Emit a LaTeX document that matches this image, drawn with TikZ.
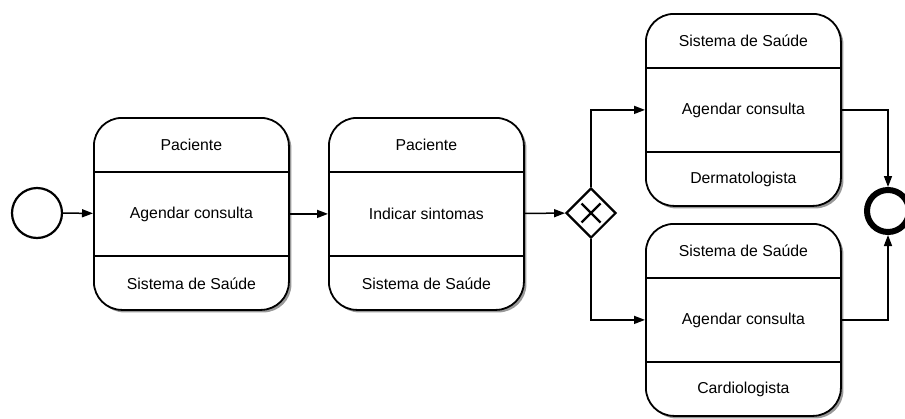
\documentclass[tikz,border=0pt]{standalone}
\usepackage{fontspec}
\setmainfont{Liberation Sans}
\usetikzlibrary{arrows.meta,shapes.geometric,shadows,calc}

\tikzset{
  flow/.style={line width=1.5pt, -{Triangle[length=11pt,width=8pt]}},
  taskbox/.style={draw, line width=1.8pt, fill=white, rounded corners=28pt,
    minimum width=195pt, minimum height=192pt, inner sep=0pt,
    drop shadow={shadow xshift=2.5pt, shadow yshift=-2.5pt, fill=black!40, opacity=1}},
  divider/.style={line width=1.5pt},
  label/.style={font=\fontsize{15.8}{19}\selectfont, inner sep=0pt},
  startev/.style={circle, draw, line width=2.2pt, minimum size=50pt, inner sep=0pt},
  endev/.style={circle, draw, line width=6pt, minimum size=42pt, inner sep=0pt},
  xorgate/.style={diamond, draw, line width=2.2pt, minimum width=50pt, minimum height=50pt, inner sep=0pt, fill=white}
}

% task with three rows: #1 name, #2 top-left corner, #3 top, #4 middle, #5 bottom
\newcommand\tarefa[5]{%
  \node[taskbox, anchor=north west] (#1) at (#2) {};
  \path (#1.north west) ++(0,55) coordinate (#1-d1);
  \path (#1.north west) ++(0,139) coordinate (#1-d2);
  \draw[divider] (#1-d1) -- (#1-d1 -| #1.east);
  \draw[divider] (#1-d2) -- (#1-d2 -| #1.east);
  \node[label] (#1-top) at ($(#1.north)!0.5!(#1-d1 -| #1.north)$) {#3};
  \node[label] (#1-mid) at ($(#1-d1 -| #1.north)!0.5!(#1-d2 -| #1.north)$) {#4};
  \node[label] (#1-bot) at ($(#1-d2 -| #1.north)!0.5!(#1.south)$) {#5};
}

\begin{document}
\begin{tikzpicture}[x=1pt, y=-1pt]
  \useasboundingbox (0,0) rectangle (905,418);

  \node[startev] (start) at (37,213) {};

  \tarefa{t1}{93,117}{Paciente}{Agendar consulta}{Sistema de Saúde}
  \tarefa{t2}{328,117}{Paciente}{Indicar sintomas}{Sistema de Saúde}
  \tarefa{t3}{645,13}{Sistema de Saúde}{Agendar consulta}{Dermatologista}
  \tarefa{t4}{645,223}{Sistema de Saúde}{Agendar consulta}{Cardiologista}

  \node[xorgate] (gw) at (591,213) {};
  \draw[line width=2.2pt] ($(gw)+(-9.5,-9.5)$) -- ($(gw)+(9.5,9.5)$);
  \draw[line width=2.2pt] ($(gw)+(-9.5,9.5)$) -- ($(gw)+(9.5,-9.5)$);

  \node[endev] (end) at (888,211) {};

  \draw[flow] (start) -- (t1);
  \draw[flow] (t1) -- (t2);
  \draw[flow] (t2) -- (gw);
  \draw[flow] (gw.north) |- (t3.west);
  \draw[flow] (gw.south) |- (t4.west);
  \draw[flow] (t3.east) -| (end.north);
  \draw[flow] (t4.east) -| (end.south);
\end{tikzpicture}
\end{document}
